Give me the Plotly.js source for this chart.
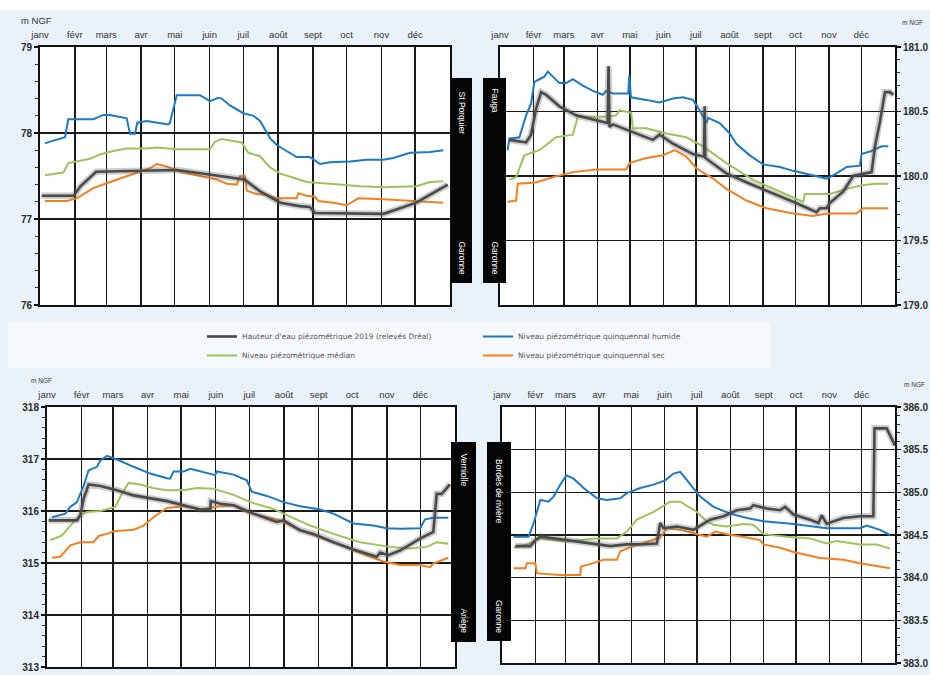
<!DOCTYPE html>
<html>
<head>
<meta charset="utf-8">
<script src="https://cdn.plot.ly/plotly-3.0.1.min.js"></script>
<style>
html,body{margin:0;padding:0;background:#eaf2f9;}
#chart{width:930px;height:675px;}
</style>
</head>
<body>
<div id="chart"></div>
<script>
// ---------- tick labels ----------
const monthTicks  = [0,31,59,90,120,151,181,212,243,273,304,334];
const monthLabels = ['janv','févr','mars','avr','mai','juin','juil','août','sept','oct','nov','déc'];

const seriesNames = [
  "Hauteur d'eau piézométrique 2019 (relevés Dréal)",
  "Niveau piézométrique quinquennal humide",
  "Niveau piézométrique médian",
  "Niveau piézométrique quinquennal sec"
];

// ---------- St Porquier (Garonne) ----------
const stp_obs_day = [1.5,30,36,50,122,182,196,214,231,240,245,306,335,363];
const stp_obs_val = [77.27,77.27,77.38,77.55,77.57,77.46,77.32,77.19,77.15,77.14,77.07,77.06,77.19,77.40];
const stp_hum_day = [4.5,8.9,22.3,25.2,47.5,56.4,62.3,71.2,77.2,80.1,84.6,86.6,95.0,114.2,115.7,121.7,142.4,151.3,158.8,161.7,169.1,181.0,189.9,195.9,204.8,210.7,219.6,228.5,240.4,249.3,258.2,276.0,290.8,305.6,314.6,329.4,347.2,359.1];
const stp_hum_val = [77.88,77.90,77.95,78.16,78.16,78.21,78.21,78.19,78.17,77.99,77.99,78.12,78.14,78.10,78.12,78.44,78.44,78.37,78.41,78.40,78.32,78.23,78.20,78.14,77.94,77.86,77.79,77.72,77.72,77.64,77.66,77.67,77.69,77.69,77.71,77.77,77.78,77.80];
const stp_med_day = [4.5,20.8,25.2,35.6,44.5,53.4,65.3,77.2,95.0,103.9,121.7,151.3,155.8,161.7,172.1,179.5,185.5,195.9,204.8,213.7,225.5,237.4,258.2,284.9,305.6,335.3,347.2,359.1];
const stp_med_val = [77.51,77.54,77.65,77.68,77.70,77.75,77.79,77.82,77.82,77.83,77.81,77.81,77.90,77.93,77.91,77.89,77.77,77.73,77.60,77.53,77.48,77.43,77.41,77.38,77.37,77.38,77.43,77.44];
const stp_sec_day = [4.5,23.7,32.6,47.5,62.3,77.2,89.0,97.9,103.9,112.8,124.6,142.4,157.3,166.2,175.1,178.1,182.5,184.0,192.9,201.8,210.7,228.5,230.0,237.4,244.8,247.8,261.1,273.0,278.9,283.4,305.6,335.3,359.1];
const stp_sec_val = [77.21,77.21,77.24,77.36,77.43,77.50,77.55,77.59,77.64,77.61,77.55,77.50,77.46,77.41,77.40,77.50,77.50,77.33,77.29,77.28,77.24,77.24,77.30,77.27,77.26,77.21,77.19,77.16,77.21,77.24,77.23,77.21,77.19];

// ---------- Fauga (Garonne) ----------
const fau_obs_day = [8.6,24.1,28.7,33.3,38.0,42.6,54.9,70.3,99.5,100.3,101.2,104.3,119.7,141.3,147.5,159.8,178.3,188.5,189.1,189.7,209.2,230.8,270.9,292.5,295.6,301.8,304.8,317.2,326.4,343.4,346.5,351.1,355.7,360.4,363.5];
const fau_obs_val = [180.28,180.26,180.32,180.52,180.65,180.63,180.54,180.47,180.41,180.85,180.38,180.40,180.35,180.28,180.32,180.25,180.17,180.15,180.54,180.14,180.02,179.94,179.80,179.72,179.75,179.75,179.79,179.88,180.00,180.03,180.23,180.42,180.65,180.65,180.63];
const fau_hum_day = [7.1,8.6,17.9,24.1,28.7,31.8,36.4,41.0,44.1,48.7,54.9,61.1,67.3,76.5,85.8,95.0,98.1,104.3,118.5,119.5,121.0,135.1,147.5,159.8,169.1,178.3,184.5,190.7,192.2,203.0,212.3,218.4,230.8,243.1,258.6,270.9,286.3,301.8,311.0,320.3,332.6,334.1,341.9,352.7,358.8];
const fau_hum_val = [180.20,180.29,180.30,180.47,180.56,180.73,180.75,180.77,180.81,180.77,180.72,180.72,180.75,180.70,180.66,180.63,180.66,180.64,180.64,180.78,180.61,180.59,180.57,180.60,180.61,180.59,180.51,180.41,180.45,180.41,180.33,180.25,180.16,180.09,180.07,180.04,180.01,179.98,180.02,180.07,180.08,180.17,180.19,180.23,180.23];
const fau_med_day = [8.6,14.8,22.5,36.4,51.8,67.3,71.9,98.1,107.4,110.5,121.3,122.8,135.1,153.7,172.2,187.6,209.2,233.9,258.6,280.2,281.7,304.8,320.3,335.7,348.0,358.8];
const fau_med_val = [179.97,179.99,180.16,180.20,180.30,180.32,180.46,180.46,180.47,180.51,180.49,180.37,180.37,180.33,180.30,180.23,180.10,179.97,179.88,179.80,179.86,179.86,179.90,179.93,179.94,179.94];
const fau_sec_day = [7.1,14.8,16.4,33.3,48.7,67.3,88.9,116.6,119.7,135.1,150.6,161.4,172.2,181.4,196.8,209.2,227.7,246.2,270.9,289.4,301.8,329.5,335.7,358.8];
const fau_sec_val = [179.80,179.81,179.94,179.95,179.99,180.03,180.05,180.05,180.10,180.14,180.16,180.20,180.15,180.06,179.98,179.90,179.81,179.75,179.71,179.69,179.71,179.71,179.75,179.75];

// ---------- Verniolle (Ariège) ----------
const ver_obs_day = [1.5,26.8,29.8,32.8,37.2,47.7,62.6,77.5,107.3,137.1,146.0,146.6,154.9,166.9,184.7,205.6,211.6,226.4,238.4,256.2,274.1,295.0,298.0,305.4,315.8,333.7,345.6,348.6,353.1,360.5];
const ver_obs_val = [315.82,315.82,315.92,316.24,316.51,316.48,316.40,316.30,316.19,316.03,316.03,316.19,316.14,316.11,315.95,315.79,315.82,315.63,315.56,315.40,315.26,315.12,315.20,315.15,315.24,315.47,315.60,316.33,316.33,316.51];
const ver_hum_day = [4.5,16.4,20.9,26.8,32.8,37.2,44.7,47.7,53.6,62.6,77.5,92.4,107.3,110.2,113.2,122.2,128.1,140.0,150.5,152.0,166.9,178.8,183.2,196.7,211.6,226.4,244.3,256.2,274.1,292.0,303.9,315.8,333.7,338.2,345.6,359.0];
const ver_hum_val = [315.88,315.95,316.08,316.17,316.49,316.78,316.85,316.97,317.06,316.99,316.85,316.72,316.63,316.62,316.76,316.76,316.81,316.75,316.69,316.76,316.70,316.59,316.37,316.29,316.17,316.09,316.03,315.95,315.76,315.72,315.67,315.66,315.67,315.84,315.87,315.87];
const ver_med_day = [3.0,13.4,20.9,29.8,35.8,47.7,61.1,67.0,73.0,83.4,95.3,107.3,122.2,134.1,149.0,166.9,183.2,202.6,214.5,235.4,256.2,280.1,306.9,324.8,339.7,348.6,359.0];
const ver_med_val = [315.44,315.53,315.72,315.92,315.98,316.00,316.08,316.33,316.54,316.51,316.44,316.40,316.40,316.44,316.43,316.31,316.16,316.04,315.92,315.72,315.56,315.40,315.31,315.28,315.31,315.40,315.37];
const ver_sec_day = [4.5,11.9,20.9,29.8,41.7,46.2,53.6,59.6,77.5,86.4,95.3,107.3,122.2,137.1,152.0,166.9,178.8,196.7,208.6,226.4,256.2,286.0,300.9,315.8,333.7,342.7,345.6,359.0];
const ver_sec_val = [315.10,315.12,315.34,315.40,315.40,315.52,315.56,315.61,315.64,315.72,315.88,316.06,316.09,316.03,316.08,316.11,315.98,315.88,315.82,315.63,315.40,315.15,315.03,314.96,314.96,314.92,314.99,315.10];

// ---------- Bordes de rivière (Garonne) ----------
const bor_obs_day = [12.4,26.3,30.9,35.6,60.3,85.1,100.5,116.0,128.4,143.8,146.9,150.0,162.4,177.9,185.6,193.3,205.7,218.1,230.4,233.5,245.9,258.3,262.9,270.7,286.1,293.9,296.9,301.6,307.8,317.1,332.5,344.9,346.0,357.3,361.9,365.0];
const bor_obs_val = [384.37,384.37,384.44,384.48,384.44,384.40,384.37,384.39,384.39,384.40,384.64,384.58,384.60,384.56,384.62,384.68,384.72,384.79,384.81,384.85,384.81,384.79,384.83,384.74,384.68,384.64,384.73,384.63,384.66,384.70,384.72,384.72,385.75,385.75,385.63,385.55];
const bor_hum_day = [10.8,24.7,29.4,35.6,43.3,47.9,54.1,59.7,66.5,75.8,88.2,97.4,109.8,116.0,128.4,140.7,151.6,159.3,165.5,174.8,184.0,196.4,211.9,227.4,242.8,270.7,301.6,332.5,338.7,351.1,360.4];
const bor_hum_val = [384.48,384.48,384.64,384.91,384.89,384.95,385.09,385.20,385.16,385.05,384.93,384.91,384.93,384.99,385.05,385.09,385.14,385.22,385.24,385.09,384.95,384.83,384.75,384.70,384.66,384.63,384.58,384.58,384.61,384.56,384.50];
const bor_med_day = [10.8,23.2,35.6,60.3,85.1,106.7,116.0,125.3,140.7,156.2,165.5,181.0,190.2,196.4,208.8,224.3,233.5,242.8,264.5,286.1,301.6,310.9,332.5,348.0,360.4];
const bor_med_val = [384.35,384.39,384.46,384.42,384.46,384.46,384.54,384.68,384.77,384.89,384.89,384.77,384.66,384.62,384.60,384.63,384.62,384.51,384.48,384.46,384.40,384.43,384.39,384.39,384.34];
const bor_sec_day = [10.8,21.7,23.2,30.9,32.5,54.1,72.7,73.3,85.1,94.3,106.7,109.8,122.2,134.6,146.9,153.1,165.5,177.9,190.2,198.0,208.8,227.4,239.7,242.8,258.3,270.7,295.4,317.1,332.5,360.4];
const bor_sec_val = [384.11,384.11,384.17,384.17,384.05,384.03,384.03,384.13,384.17,384.21,384.21,384.31,384.37,384.42,384.47,384.58,384.56,384.52,384.48,384.54,384.51,384.47,384.44,384.39,384.35,384.30,384.23,384.21,384.17,384.11];

// ---------- styling ----------
const W = 930, H = 675;
const px = v => v / W;
const py = v => 1 - v / H;
const C = {obs:'#4a4a4a', shadow:'rgba(100,100,100,0.32)', hum:'#1b7ac6', med:'#9dc35b', sec:'#f2801f'};

const panels = [
  {xa:'x',  ya:'y',  obs:[stp_obs_day,stp_obs_val], hum:[stp_hum_day,stp_hum_val], med:[stp_med_day,stp_med_val], sec:[stp_sec_day,stp_sec_val]},
  {xa:'x2', ya:'y2', obs:[fau_obs_day,fau_obs_val], hum:[fau_hum_day,fau_hum_val], med:[fau_med_day,fau_med_val], sec:[fau_sec_day,fau_sec_val]},
  {xa:'x3', ya:'y3', obs:[ver_obs_day,ver_obs_val], hum:[ver_hum_day,ver_hum_val], med:[ver_med_day,ver_med_val], sec:[ver_sec_day,ver_sec_val]},
  {xa:'x4', ya:'y4', obs:[bor_obs_day,bor_obs_val], hum:[bor_hum_day,bor_hum_val], med:[bor_med_day,bor_med_val], sec:[bor_sec_day,bor_sec_val]}
];

const traces = [];
panels.forEach((p, i) => {
  const first = i === 0;
  const base = {type:'scatter', mode:'lines', xaxis:p.xa, yaxis:p.ya, hoverinfo:'skip'};
  traces.push(Object.assign({}, base, {x:p.hum[0], y:p.hum[1], name:seriesNames[1], line:{color:C.hum, width:2}, showlegend:first, legend:'legend2', legendrank:1}));
  traces.push(Object.assign({}, base, {x:p.med[0], y:p.med[1], name:seriesNames[2], line:{color:C.med, width:2}, showlegend:first, legend:'legend', legendrank:2}));
  traces.push(Object.assign({}, base, {x:p.sec[0], y:p.sec[1], name:seriesNames[3], line:{color:C.sec, width:2}, showlegend:first, legend:'legend2', legendrank:2}));
  traces.push(Object.assign({}, base, {x:p.obs[0], y:p.obs[1], name:'shadow', line:{color:C.shadow, width:6.5}, showlegend:false}));
  traces.push(Object.assign({}, base, {x:p.obs[0], y:p.obs[1], name:seriesNames[0], line:{color:C.obs, width:2.6}, showlegend:first, legend:'legend', legendrank:1}));
});

function xAxis(x0, x1, anchor) {
  return {
    domain:[px(x0), px(x1)], anchor:anchor, range:[0,365], side:'top',
    tickmode:'array', tickvals:monthTicks, ticktext:monthLabels,
    ticks:'', ticklabelstandoff:3,
    tickfont:{family:'Liberation Sans, Arial, sans-serif', size:9.5, color:'#333'},
    showgrid:true, gridcolor:'#1a1a1a', gridwidth:1.4,
    showline:true, linecolor:'#111', linewidth:2, mirror:true,
    zeroline:false, fixedrange:true
  };
}
function yAxis(y0, y1, anchor, range, dtick, minor, side, fmt, fsize) {
  return {
    domain:[py(y1), py(y0)], anchor:anchor, range:range, dtick:dtick, tick0:range[0], side:side,
    tickformat:fmt, ticks:'outside', ticklen:4, tickwidth:1.5, tickcolor:'#111',
    minor:{ticks:'outside', ticklen:3, tickwidth:1, tickcolor:'#333', dtick:minor, showgrid:false},
    tickfont:{family:'Liberation Sans, Arial, sans-serif', size:fsize, color:'#2a2a2a', weight:'bold'},
    showgrid:true, gridcolor:'#1a1a1a', gridwidth:1.4,
    showline:true, linecolor:'#111', linewidth:2, mirror:true,
    zeroline:false, fixedrange:true
  };
}

const boxes = [
  [451,472,78,283],[483,506,78,283],[451,476,442,642],[487,511,442,641]
];
const shapes = [
  {type:'rect', xref:'paper', yref:'paper', x0:0, x1:1, y0:py(10), y1:1, fillcolor:'#ffffff', line:{width:0}, layer:'below'},
  {type:'rect', xref:'paper', yref:'paper', x0:px(8), x1:px(770), y0:py(368), y1:py(322), fillcolor:'#f6f9fc', line:{width:0}, layer:'below'}
].concat(boxes.map(b => ({type:'rect', xref:'paper', yref:'paper', x0:px(b[0]), x1:px(b[1]), y0:py(b[3]), y1:py(b[2]), fillcolor:'#050505', line:{width:0}, layer:'above'})));

function boxLabel(text, x, y) {
  return {text:text, xref:'paper', yref:'paper', x:px(x), y:py(y), showarrow:false, textangle:90,
    xanchor:'center', yanchor:'middle', font:{family:'Liberation Sans, Arial, sans-serif', size:8.5, color:'#ffffff'}};
}
function unitLabel(x, y, size) {
  return {text:'m NGF', xref:'paper', yref:'paper', x:px(x), y:py(y), showarrow:false,
    xanchor:'left', yanchor:'middle', font:{family:'Liberation Sans, Arial, sans-serif', size:size, color:'#333'}};
}

const annotations = [
  boxLabel('St Porquier', 461.5, 113), boxLabel('Garonne', 461.5, 258),
  boxLabel('Fauga', 494.5, 100), boxLabel('Garonne', 494.5, 258),
  boxLabel('Verniolle', 463.5, 470), boxLabel('Ariège', 463.5, 621),
  boxLabel('Bordes de rivière', 499, 492), boxLabel('Garonne', 499, 617),
  unitLabel(19, 20, 9.5), unitLabel(900, 22, 6.5), unitLabel(29, 380, 6.5), unitLabel(902, 384, 6.5)
];

const legendBase = {xanchor:'left', yanchor:'top', bgcolor:'rgba(0,0,0,0)', borderwidth:0,
  font:{family:'DejaVu Sans, sans-serif', size:7.5, color:'#555'}, itemwidth:30, orientation:'v', tracegroupgap:0};

const layout = {
  width:W, height:H, margin:{l:0,r:0,t:0,b:0},
  paper_bgcolor:'#eaf2f9', plot_bgcolor:'#ffffff',
  font:{family:'Liberation Sans, Arial, sans-serif'},
  xaxis:  xAxis(40, 450, 'y'),
  yaxis:  yAxis(47, 305, 'x', [76,79], 1, 0.2, 'left', '', 10),
  xaxis2: xAxis(500, 895, 'y2'),
  yaxis2: yAxis(47, 305, 'x2', [179,181], 0.5, 0.1, 'right', '.1f', 10),
  xaxis3: xAxis(47, 455, 'y3'),
  yaxis3: yAxis(407, 667, 'x3', [313,318], 1, 0.2, 'left', '', 10),
  xaxis4: xAxis(502, 895, 'y4'),
  yaxis4: yAxis(407, 663, 'x4', [383,386], 0.5, 0.1, 'right', '.1f', 10),
  legend:  Object.assign({}, legendBase, {x:px(202), y:py(322)}),
  legend2: Object.assign({}, legendBase, {x:px(478), y:py(322)}),
  shapes:shapes, annotations:annotations
};

Plotly.newPlot('chart', traces, layout, {staticPlot:true, displayModeBar:false});
</script>
</body>
</html>
